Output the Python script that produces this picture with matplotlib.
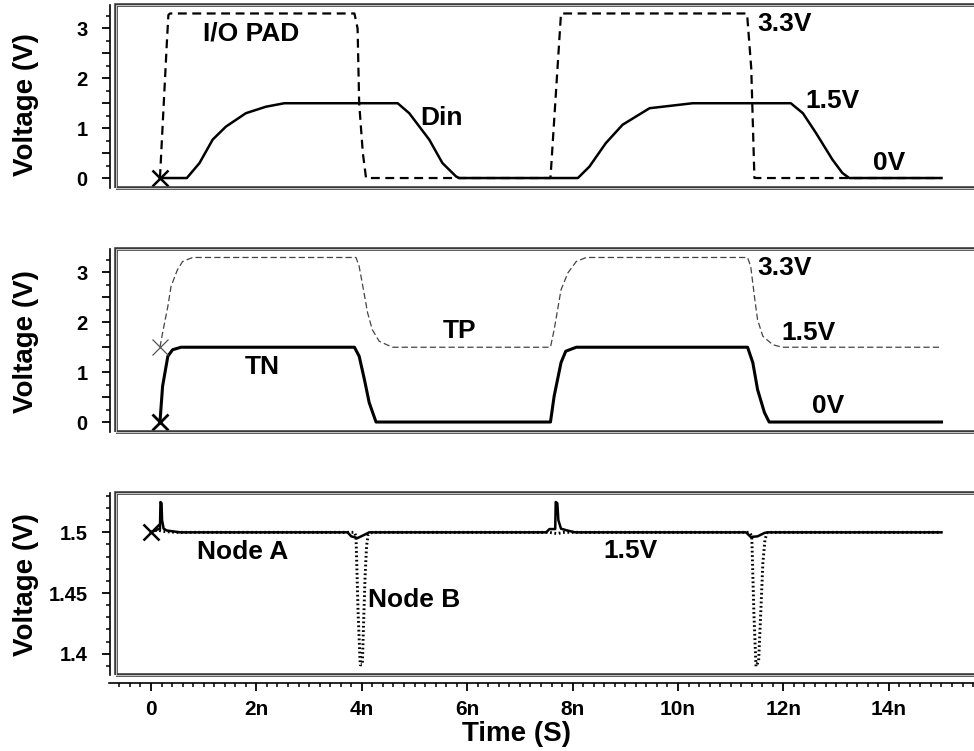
import matplotlib
matplotlib.use('Agg')
import matplotlib.pyplot as plt
import matplotlib.patches as mpatches
from matplotlib.ticker import FixedLocator, MultipleLocator, FuncFormatter

plt.rcParams['font.family'] = ['Liberation Sans', 'DejaVu Sans']
plt.rcParams['font.weight'] = 'bold'

# waveforms (time in ns, voltage in V)
io_t = [0.17, 0.30, 0.33, 0.36, 3.86, 3.92, 3.95, 4.02, 4.08, 7.58, 7.78, 11.31, 11.39, 11.45, 15.0]
io_v = [0.0, 2.7, 3.27, 3.3, 3.3, 3.0, 1.5, 0.5, 0.0, 0.0, 3.3, 3.3, 2.2, 0.0, 0.0]

din_t = [0.17, 0.68, 0.92, 1.17, 1.42, 1.80, 2.18, 2.53, 4.68, 4.90, 5.28, 5.53, 5.79, 5.85,
         8.10, 8.32, 8.63, 8.95, 9.46, 10.28, 12.14, 12.37, 12.62, 12.93, 13.12, 13.25, 15.0]
din_v = [0.0, 0.0, 0.30, 0.77, 1.03, 1.30, 1.43, 1.5, 1.5, 1.30, 0.77, 0.30, 0.03, 0.0,
         0.0, 0.23, 0.70, 1.07, 1.40, 1.5, 1.5, 1.30, 0.90, 0.37, 0.10, 0.0, 0.0]

tp_t = [0.17, 0.22, 0.32, 0.38, 0.50, 0.60, 0.79, 3.89, 3.95, 4.02, 4.11, 4.20, 4.33, 4.58,
        7.58, 7.65, 7.78, 7.91, 8.07, 8.26, 11.32, 11.38, 11.45, 11.51, 11.61, 11.80, 11.98, 15.0]
tp_v = [1.5, 1.79, 2.32, 2.72, 3.05, 3.22, 3.3, 3.3, 3.12, 2.72, 2.19, 1.85, 1.62, 1.5,
        1.5, 1.85, 2.65, 2.99, 3.22, 3.3, 3.3, 3.12, 2.52, 2.05, 1.72, 1.55, 1.5, 1.5]

tn_t = [0.17, 0.22, 0.32, 0.41, 0.57, 3.86, 3.95, 4.05, 4.14, 4.27,
        7.58, 7.65, 7.78, 7.87, 8.07, 11.32, 11.42, 11.51, 11.64, 11.73, 15.0]
tn_v = [0.0, 0.72, 1.32, 1.45, 1.5, 1.5, 1.32, 0.85, 0.39, 0.0,
        0.0, 0.52, 1.19, 1.42, 1.5, 1.5, 1.19, 0.65, 0.19, 0.0, 0.0]

na_t = [0.0, 0.10, 0.17, 0.18, 0.20, 0.21, 0.24, 0.30, 0.55, 3.73, 3.80, 3.92, 4.05, 4.14,
        7.50, 7.56, 7.67, 7.68, 7.71, 7.73, 7.78, 7.90, 8.05, 11.29, 11.38, 11.51, 11.64, 11.70, 15.0]
na_v = [1.5, 1.502, 1.503, 1.525, 1.524, 1.510, 1.503, 1.5015, 1.5, 1.5, 1.4967, 1.4953, 1.498, 1.5,
        1.5, 1.5027, 1.5027, 1.525, 1.524, 1.510, 1.503, 1.5015, 1.5, 1.5, 1.4962, 1.4967, 1.4995, 1.5, 1.5]

nb_t = [0.0, 0.12, 0.20, 0.30, 0.50, 3.86, 3.89, 3.93, 3.97, 4.01, 4.03, 4.06, 4.09, 4.12, 4.20,
        7.55, 7.70, 7.85, 11.36, 11.40, 11.44, 11.48, 11.53, 11.57, 11.61, 11.65, 11.69, 11.75, 15.0]
nb_v = [1.5, 1.502, 1.501, 1.5005, 1.5, 1.5, 1.4967, 1.4335, 1.3909, 1.3909, 1.4198, 1.461, 1.4885, 1.498, 1.5,
        1.5, 1.499, 1.5, 1.5, 1.4967, 1.4335, 1.3896, 1.394, 1.4335, 1.4746, 1.494, 1.4995, 1.5, 1.5]

time_ticks = [0, 2, 4, 6, 8, 10, 12, 14]
time_labels = ['0', '2n', '4n', '6n', '8n', '10n', '12n', '14n']

W, H = 974, 751
T0_PX, NS_PX = 151.0, 52.7
BOX_L, BOX_R = 116, 976


def px2t(x):
    return (x - T0_PX) / NS_PX


fig = plt.figure(figsize=(W / 100, H / 100), dpi=100)


def panel(top, bot, ylim):
    ax = fig.add_axes([BOX_L / W, 1 - bot / H, (BOX_R - BOX_L) / W, (bot - top) / H])
    ax.set_xlim(px2t(BOX_L), px2t(BOX_R))
    ax.set_ylim(*ylim)
    for s in ['top', 'right', 'bottom']:
        ax.spines[s].set_visible(False)
    ax.spines['left'].set_position(('outward', 6 * 0.72))
    ax.spines['left'].set_linewidth(1.2)
    ax.set_xticks([])
    ax.tick_params(axis='y', which='major', length=6, width=1.3, labelsize=14.5, pad=10)
    ax.tick_params(axis='y', which='minor', length=3, width=1.1)
    # frame around the plotting area
    ax.add_patch(mpatches.Rectangle((0, 0), 1, 1, transform=ax.transAxes, fill=False,
                                    lw=2.6, edgecolor='#3a3a3a', clip_on=False, zorder=5))
    ax.add_patch(mpatches.Rectangle((0, 0), 1, 1, transform=ax.transAxes, fill=False,
                                    lw=0.7, edgecolor='#c8c8c8', clip_on=False, zorder=6))
    return ax


def int_fmt(v, pos):
    return '%d' % round(v) if abs(v - round(v)) < 1e-6 else ''


lbl = dict(fontsize=19, fontweight='bold', va='center', ha='left')

# top: I/O pad and Din
ax1 = panel(5, 188, (-0.2, 3.47))
ax1.yaxis.set_major_locator(MultipleLocator(0.5))
ax1.yaxis.set_minor_locator(MultipleLocator(0.25))
ax1.yaxis.set_major_formatter(FuncFormatter(int_fmt))
ax1.plot(io_t, io_v, color='black', lw=1.6, linestyle=(0, (4, 2.5)))
ax1.plot(din_t, din_v, color='black', lw=1.8)
ax1.plot([io_t[0]], [io_v[0]], marker='x', ms=11, mew=1.8, color='black')
ax1.text(0.99, 2.89, 'I/O PAD', **lbl)
ax1.text(5.10, 1.21, 'Din', **lbl)
ax1.text(11.50, 3.08, '3.3V', **lbl)
ax1.text(12.41, 1.55, '1.5V', **lbl)
ax1.text(13.70, 0.31, '0V', **lbl)

# middle: TP and TN
ax2 = panel(249, 432, (-0.2, 3.47))
ax2.yaxis.set_major_locator(MultipleLocator(0.5))
ax2.yaxis.set_minor_locator(MultipleLocator(0.25))
ax2.yaxis.set_major_formatter(FuncFormatter(int_fmt))
ax2.plot(tp_t, tp_v, color='#444444', lw=0.9, linestyle=(0, (5, 2.5)))
ax2.plot(tn_t, tn_v, color='black', lw=2.2)
ax2.plot([tp_t[0]], [tp_v[0]], marker='x', ms=11, mew=0.9, color='#555555')
ax2.plot([tn_t[0]], [tn_v[0]], marker='x', ms=11, mew=2.0, color='black')
ax2.text(5.54, 1.83, 'TP', **lbl)
ax2.text(1.78, 1.11, 'TN', **lbl)
ax2.text(11.50, 3.08, '3.3V', **lbl)
ax2.text(11.97, 1.79, '1.5V', **lbl)
ax2.text(12.54, 0.33, '0V', **lbl)

# bottom: node A and node B
ax3 = panel(493, 675, (1.3825, 1.5324))
ax3.yaxis.set_major_locator(FixedLocator([1.4, 1.45, 1.5]))
ax3.yaxis.set_minor_locator(MultipleLocator(0.01))
ax3.yaxis.set_major_formatter(FuncFormatter(lambda v, p: ('%.2f' % v).rstrip('0')))
ax3.plot(nb_t, nb_v, color='black', lw=2.1, linestyle=(0, (0.6, 0.9)))
ax3.plot(na_t, na_v, color='black', lw=1.8)
ax3.plot([na_t[0]], [na_v[0]], marker='x', ms=11, mew=1.8, color='black')
ax3.text(0.87, 1.4839, 'Node A', **lbl)
ax3.text(4.12, 1.4444, 'Node B', **lbl)
ax3.text(8.58, 1.4848, '1.5V', **lbl)

# shared time axis below the last panel
tax = fig.add_axes([109 / W, 1 - 683 / H, (BOX_R - 109) / W, 0.001])
tax.set_xlim(px2t(109), px2t(BOX_R))
tax.patch.set_visible(False)
for s in ['top', 'right', 'left']:
    tax.spines[s].set_visible(False)
tax.spines['bottom'].set_linewidth(1.2)
tax.set_yticks([])
tax.set_xticks(time_ticks)
tax.set_xticklabels(time_labels)
tax.xaxis.set_minor_locator(MultipleLocator(0.2))
tax.tick_params(axis='x', which='major', length=6, width=1.3, labelsize=15, pad=6)
tax.tick_params(axis='x', which='minor', length=3, width=1.1)

fig.text(516 / W, 1 - 734 / H, 'Time (S)', fontsize=20, fontweight='bold', ha='center', va='center')
for yc in [105, 342, 585]:
    fig.text(26 / W, 1 - yc / H, 'Voltage (V)', fontsize=20, fontweight='bold',
             rotation=90, ha='center', va='center')

fig.savefig('out.png', dpi=100)
